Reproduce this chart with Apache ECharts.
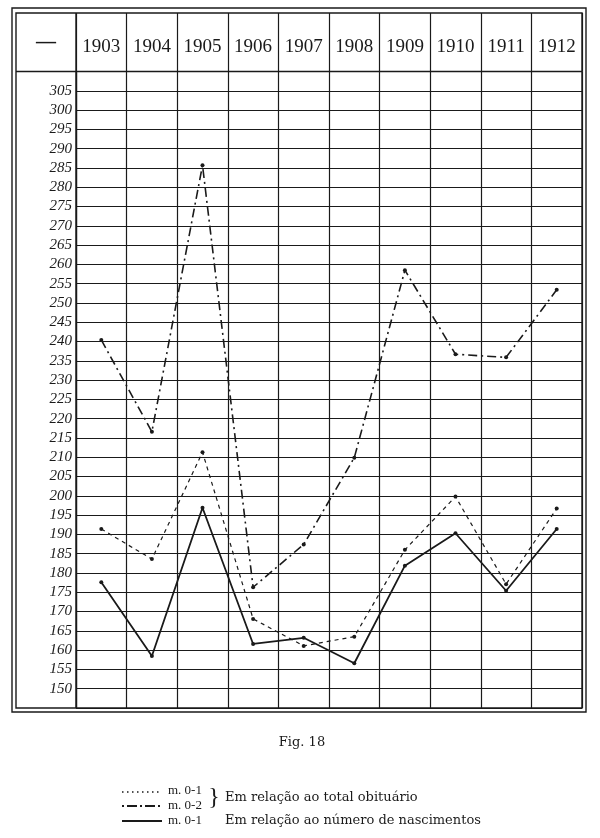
<!DOCTYPE html>
<html>
<head>
<meta charset="utf-8">
<script src="https://cdn.jsdelivr.net/npm/echarts@6/dist/echarts.min.js"></script>
<style>
  html, body { margin: 0; padding: 0; background: #fff; }
  #container { width: 600px; height: 838px; }
</style>
</head>
<body>
<div id="container"></div>
<script>
// years across the header
var years = ['1903', '1904', '1905', '1906', '1907', '1908', '1909', '1910', '1911', '1912'];

// m. 0-2, em relação ao total obituário (dash-dot)
var m02Obituario = [240.4, 216.6, 285.7, 176.3, 187.4, 209.9, 258.5, 236.7, 235.9, 253.4];
// m. 0-1, em relação ao total obituário (dotted)
var m01Obituario = [191.4, 183.6, 211.3, 168.1, 161.1, 163.5, 186.0, 199.8, 177.1, 196.7];
// m. 0-1, em relação ao número de nascimentos (solid)
var m01Nascimentos = [177.6, 158.5, 196.9, 161.6, 163.2, 156.6, 181.9, 190.3, 175.4, 191.4];

// scale of the left column
var yMin = 145;
var yMax = 310;
var yStep = 5;

var ink = '#1a1a1a';
var serif = 'Liberation Serif';
var keyFont = 'DejaVu Serif';

var dom = document.getElementById('container');
var myChart = echarts.init(dom, null, { renderer: 'canvas' });

var option = {
  backgroundColor: '#fff',
  animation: false,
  grid: [
    { left: 76, right: 18, top: 13, height: 58.5 },
    { left: 76, right: 18, top: 71.5, bottom: 130 }
  ],
  xAxis: [
    {
      gridIndex: 0,
      type: 'category',
      data: years,
      position: 'bottom',
      axisLine: { show: false },
      axisTick: { show: false },
      axisLabel: {
        inside: true,
        margin: 24,
        verticalAlign: 'middle',
        fontFamily: serif,
        fontSize: 19,
        color: ink
      },
      splitLine: { show: true, lineStyle: { color: ink, width: 1.2 } }
    },
    {
      gridIndex: 1,
      type: 'category',
      data: years,
      axisLine: { show: false },
      axisTick: { show: false },
      axisLabel: { show: false },
      splitLine: { show: true, lineStyle: { color: ink, width: 1.2 } }
    }
  ],
  yAxis: [
    { gridIndex: 0, type: 'value', show: false },
    {
      gridIndex: 1,
      type: 'value',
      min: yMin,
      max: yMax,
      interval: yStep,
      axisLine: { show: true, lineStyle: { color: ink, width: 1.3 } },
      axisTick: { show: false },
      axisLabel: {
        margin: 4,
        fontFamily: serif,
        fontStyle: 'italic',
        fontSize: 15,
        color: ink,
        padding: [0, 0, 6, 0],
        formatter: function (v) {
          if (v === yMin || v === yMax) return '';
          return String(v);
        }
      },
      splitLine: { show: true, lineStyle: { color: ink, width: 1.1 } }
    }
  ],
  series: [
    {
      name: 'm. 0-2',
      type: 'line',
      xAxisIndex: 1,
      yAxisIndex: 1,
      data: m02Obituario,
      symbol: 'circle',
      symbolSize: 4,
      itemStyle: { color: ink },
      lineStyle: { color: ink, width: 1.6, type: [9, 4, 2, 4] },
      z: 5
    },
    {
      name: 'm. 0-1',
      type: 'line',
      xAxisIndex: 1,
      yAxisIndex: 1,
      data: m01Obituario,
      symbol: 'circle',
      symbolSize: 4,
      itemStyle: { color: ink },
      lineStyle: { color: ink, width: 1.2, type: [4, 4] },
      z: 5
    },
    {
      name: 'm. 0-1 nasc',
      type: 'line',
      xAxisIndex: 1,
      yAxisIndex: 1,
      data: m01Nascimentos,
      symbol: 'circle',
      symbolSize: 4,
      itemStyle: { color: ink },
      lineStyle: { color: ink, width: 1.8 },
      z: 5
    }
  ],
  graphic: [
    // double frame
    { type: 'rect', shape: { x: 12, y: 8, width: 574, height: 704 }, style: { fill: null, stroke: ink, lineWidth: 1.4 }, z: 10 },
    { type: 'rect', shape: { x: 16, y: 13, width: 566, height: 695 }, style: { fill: null, stroke: ink, lineWidth: 1.4 }, z: 10 },
    // header bottom rule and first column rule
    { type: 'line', shape: { x1: 16, y1: 71.5, x2: 582, y2: 71.5 }, style: { stroke: ink, lineWidth: 1.6 }, z: 10 },
    { type: 'line', shape: { x1: 76, y1: 13, x2: 76, y2: 708 }, style: { stroke: ink, lineWidth: 1.4 }, z: 10 },
    { type: 'text', x: 46, y: 43, style: { text: '—', font: 'bold 20px ' + serif, fill: ink, align: 'center', verticalAlign: 'middle' }, z: 10 },

    // caption
    { type: 'text', x: 302, y: 743, style: { text: 'Fig. 18', font: '13px ' + keyFont, fill: ink, align: 'center', verticalAlign: 'middle' } },

    // key
    { type: 'line', shape: { x1: 122, y1: 792, x2: 160, y2: 792 }, style: { stroke: ink, lineWidth: 1.3, lineDash: [1.5, 3.5] } },
    { type: 'line', shape: { x1: 122, y1: 806, x2: 160, y2: 806 }, style: { stroke: ink, lineWidth: 1.8, lineDash: [2, 3, 10, 3] } },
    { type: 'line', shape: { x1: 122, y1: 821, x2: 162, y2: 821 }, style: { stroke: ink, lineWidth: 2.2 } },
    { type: 'text', x: 168, y: 791, style: { text: 'm. 0-1', font: '13px ' + serif, fill: ink, verticalAlign: 'middle' } },
    { type: 'text', x: 168, y: 806, style: { text: 'm. 0-2', font: '13px ' + serif, fill: ink, verticalAlign: 'middle' } },
    { type: 'text', x: 168, y: 821, style: { text: 'm. 0-1', font: '13px ' + serif, fill: ink, verticalAlign: 'middle' } },
    { type: 'text', x: 214, y: 798, style: { text: '}', font: '24px ' + serif, fill: ink, align: 'center', verticalAlign: 'middle' } },
    { type: 'text', x: 225, y: 798, style: { text: 'Em relação ao total obituário', font: '13px ' + keyFont, fill: ink, verticalAlign: 'middle' } },
    { type: 'text', x: 225, y: 821, style: { text: 'Em relação ao número de nascimentos', font: '13px ' + keyFont, fill: ink, verticalAlign: 'middle' } }
  ]
};

if (option && typeof option === 'object') {
  myChart.setOption(option, true);
}
</script>
</body>
</html>
